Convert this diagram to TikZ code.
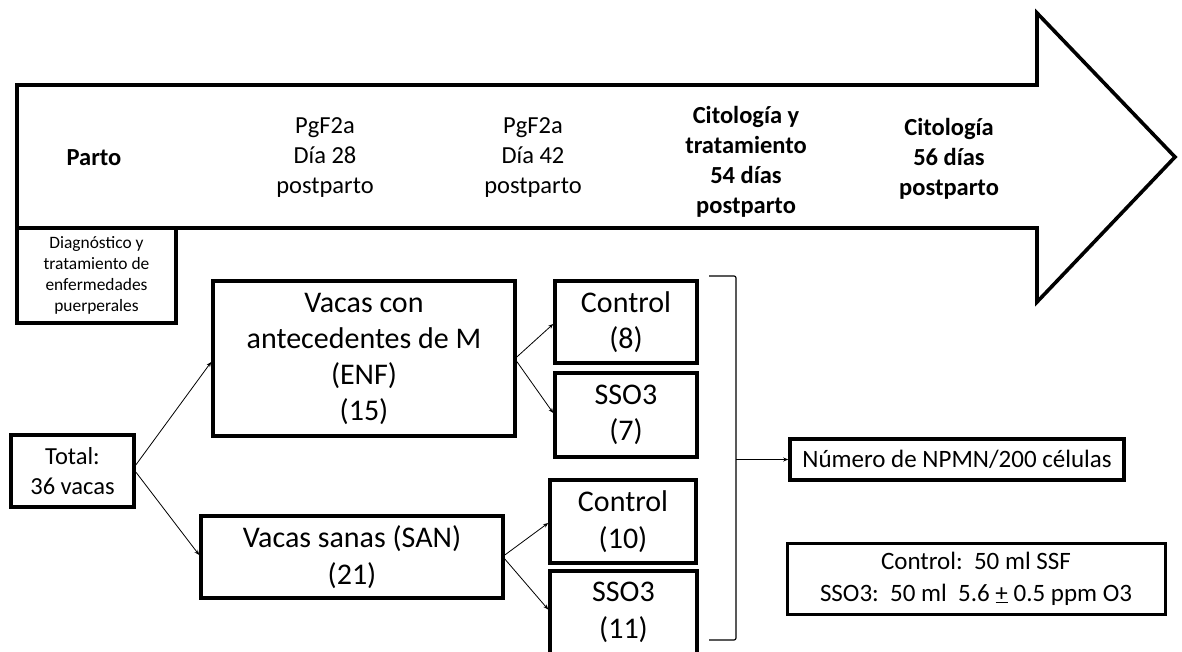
\documentclass[tikz,border=0pt]{standalone}
\usepackage{fontspec}
\setmainfont{Carlito}
\usetikzlibrary{arrows.meta}
\newcommand\myfs[2]{\fontsize{#1}{#2}\selectfont}
\begin{document}
\begin{tikzpicture}[x=1pt,y=-1pt,
  box/.style={draw,line width=3.6pt,inner sep=0pt,align=center},
  lbl/.style={inner sep=0pt,align=center},
  conn/.style={line width=0.8pt,-{Stealth[length=5pt,width=4pt]}},
  big/.style={font=\myfs{30}{36.5}},
  mid/.style={font=\myfs{24.5}{30}},
  midb/.style={font=\myfs{24.5}{30}\bfseries}]
\fill[white] (0,0) rectangle (1182,652);
\useasboundingbox (0,0) rectangle (1182,652);
% timeline arrow
\draw[line width=3.6pt,line join=miter] (17,85) -- (1037,85) -- (1037,13) -- (1175,157) -- (1037,302) -- (1037,228) -- (17,228) -- cycle;
\node[lbl,midb] (parto) at (94,158) {Parto};
\node[lbl,mid] (d28) at (325,158) {PgF2a\\Día 28\\postparto};
\node[lbl,mid] (d42) at (533,158) {PgF2a\\Día 42\\postparto};
\node[lbl,midb] (d54) at (746,162) {Citología y\\tratamiento\\54 días\\postparto};
\node[lbl,midb] (d56) at (949,159) {Citología\\56 días\\postparto};
% diagnostic box
\node[box,line width=3.3pt,minimum width=159,minimum height=95,font=\myfs{17.4}{21}] (diag) at (96.5,275.5) {Diagnóstico y\\tratamiento de\\enfermedades\\puerperales};
% groups
\node[box,mid,minimum width=123,minimum height=72] (total) at (72.5,471) {Total:\\36 vacas};
\node[box,big,font=\myfs{30}{36},minimum width=302,minimum height=155] (enf) at (364,358.5) {Vacas con\\antecedentes de M\\(ENF)\\(15)};
\node[box,big,minimum width=302,minimum height=82] (san) at (352,557) {Vacas sanas (SAN)\\(21)};
\node[box,big,minimum width=142,minimum height=82] (c8) at (626,322) {Control\\(8)};
\node[box,big,minimum width=142,minimum height=84] (s7) at (626,415) {SSO3\\(7)};
\node[box,big,minimum width=146,minimum height=83] (c10) at (623,521.5) {Control\\(10)};
\node[box,big,minimum width=147,minimum height=85] (s11) at (623.5,613.5) {};
\node[lbl,big] (s11t) at (623.5,612.5) {SSO3\\(11)};
% result and legend
\node[box,font=\myfs{25}{30},minimum width=334,minimum height=41] (num) at (957,459.5) {Número de NPMN/200 células};
\node[box,line width=3pt,font=\myfs{25}{32},minimum width=378,minimum height=71] (leg) at (976,578.5) {Control:\ \ 50 ml SSF\\SSO3:\ \ 50 ml\ \ 5.6 \underline{+} 0.5 ppm O3};
% connectors
\draw[conn] ([yshift=6pt]total.east) -- ([yshift=-3.5pt]enf.west);
\draw[conn] ([yshift=-1pt]total.east) -- ([yshift=2pt]san.west);
\draw[conn] ([yshift=1.5pt]enf.east) -- ([yshift=-2pt]c8.west);
\draw[conn] ([yshift=-3pt]enf.east) -- ([yshift=2pt]s7.west);
\draw[conn] ([yshift=2pt]san.east) -- ([yshift=-1.5pt]c10.west);
\draw[conn] ([yshift=-2pt]san.east) -- ([yshift=4pt]s11.west);
% bracket
\coordinate (bt) at (709,276);
\coordinate (bb) at (709,640);
\coordinate (bm) at (736,459.5);
\draw[line width=1.2pt,rounded corners=2pt] (bt) -- (736,276) -- (736,640) -- (bb);
\draw[conn] (bm) -- (num.west);
\end{tikzpicture}
\end{document}
